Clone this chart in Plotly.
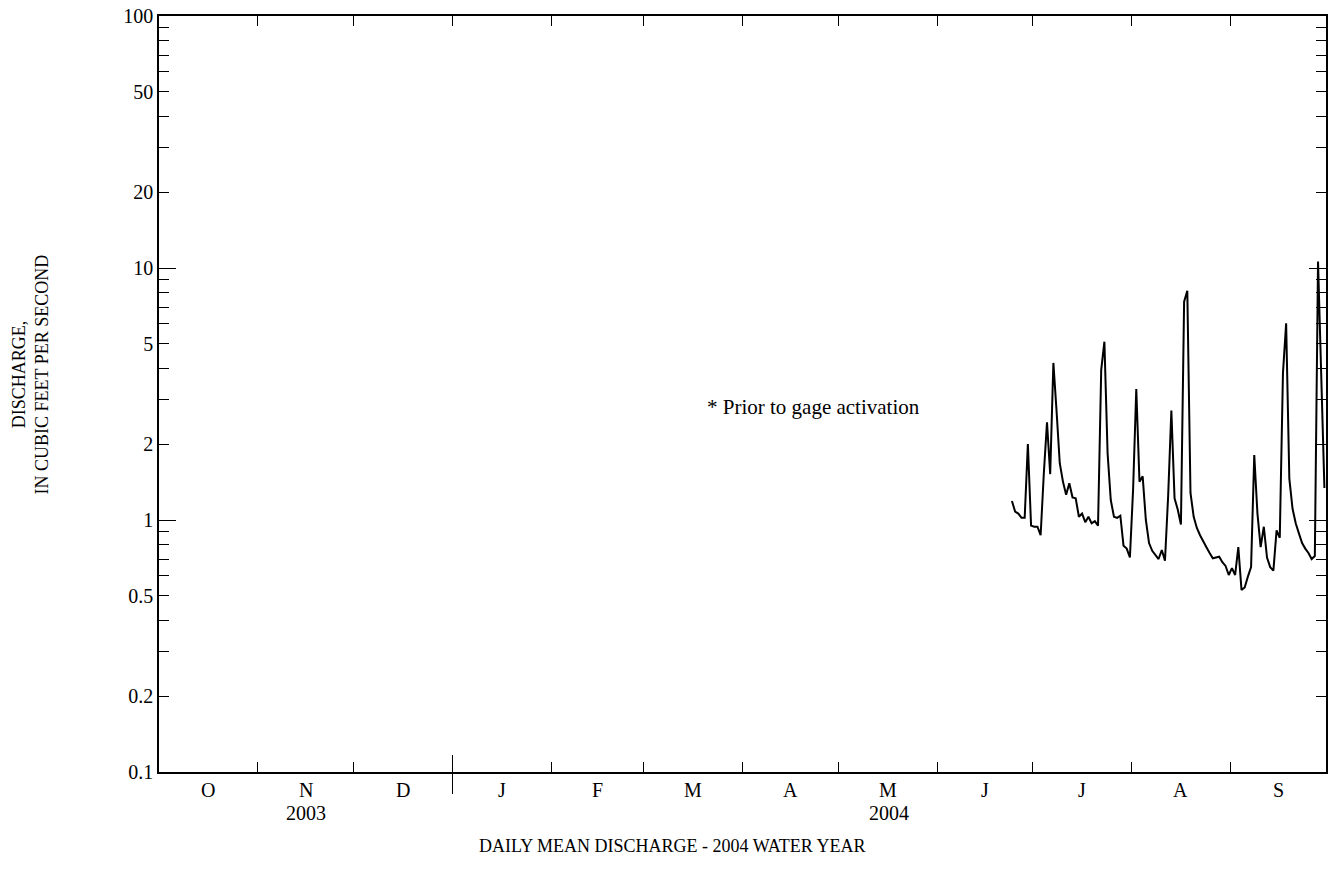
import pandas as pd
import plotly.graph_objects as go

# Daily mean discharge (ft3/s), 2004-06-24 through 2004-09-30
record_start = "2004-06-24"
discharge = [
    1.19, 1.08, 1.06, 1.02, 1.02, 2.0, 0.95, 0.94, 0.94, 0.87,
    1.53, 2.44, 1.52, 4.2, 2.7, 1.68, 1.42, 1.26, 1.40, 1.23,
    1.22, 1.03, 1.06, 0.98, 1.03, 0.97, 0.99, 0.95, 3.94, 5.1,
    1.84, 1.2, 1.03, 1.02, 1.04, 0.79, 0.77, 0.71, 1.32, 3.31,
    1.42, 1.49, 1.0, 0.81, 0.755, 0.73, 0.70, 0.76, 0.69, 1.25,
    2.72, 1.22, 1.10, 0.96, 7.35, 8.13, 1.28, 1.03, 0.93, 0.87,
    0.82, 0.78, 0.74, 0.705, 0.71, 0.715, 0.68, 0.657, 0.605, 0.644,
    0.605, 0.78, 0.528, 0.54, 0.596, 0.65, 1.81, 1.06, 0.78, 0.94,
    0.71, 0.65, 0.63, 0.91, 0.85, 3.82, 6.03, 1.46, 1.11, 0.97,
    0.885, 0.81, 0.77, 0.74, 0.70, 0.72, 10.6, 3.7, 1.34,
]

month_letters = ["O", "N", "D", "J", "F", "M", "A", "M", "J", "J", "A", "S"]
water_year_start = "2003-10-01"
water_year_end = "2004-10-01"
year_labels = ["2003", "2004"]
year_bounds = [("2003-10-01", "2004-01-01"), ("2004-01-01", "2004-10-01")]
y_label_values = [0.1, 0.2, 0.5, 1, 2, 5, 10, 20, 50, 100]

FONT = "Liberation Serif, Times New Roman, serif"

dates = pd.date_range(record_start, periods=len(discharge), freq="D") + pd.Timedelta(hours=12)
month_starts = pd.date_range(water_year_start, water_year_end, freq="MS")
month_mids = [a + (b - a) / 2 for a, b in zip(month_starts[:-1], month_starts[1:])]
x_range = [water_year_start, water_year_end]

# log ticks at every integer multiple within each decade
y_ticks = []
for dec in [0.1, 1, 10]:
    for m in range(1, 10):
        y_ticks.append(round(m * dec, 3))
y_ticks.append(100)
y_ticktext = []
for v in y_ticks:
    if v in y_label_values:
        y_ticktext.append(f"{v:g}")
    else:
        y_ticktext.append("")

fig = go.Figure()
fig.add_trace(go.Scatter(
    x=dates, y=discharge, mode="lines",
    line=dict(color="black", width=2),
    showlegend=False, hoverinfo="x+y",
))

common_x = dict(type="date", range=x_range, showgrid=False, zeroline=False,
                showticklabels=False, tickcolor="black", tickwidth=1, automargin=False)
common_y = dict(type="log", range=[-1, 2], showgrid=False, zeroline=False,
                tickcolor="black", tickwidth=1, automargin=False)

fig.update_layout(
    width=1336, height=884,
    margin=dict(l=159, r=10, t=16, b=112, autoexpand=False),
    paper_bgcolor="white", plot_bgcolor="white",
    font=dict(family=FONT, color="black", size=20),
    xaxis=dict(**common_x, tickmode="array", tickvals=list(month_starts[1:-1]),
               ticks="inside", ticklen=10, showline=True, linecolor="black",
               linewidth=1.5, mirror="ticks"),
    xaxis2=dict(**common_x, overlaying="x", anchor="y", tickmode="array",
                tickvals=["2004-01-01"], ticks="outside", ticklen=21, showline=False),
    xaxis3=dict(**common_x, overlaying="x", anchor="y", tickmode="array",
                tickvals=["2004-01-01"], ticks="inside", ticklen=17, showline=False),
    yaxis=dict(**common_y, tickmode="array", tickvals=y_ticks, ticktext=y_ticktext,
               ticks="inside", ticklen=10, showline=True, linecolor="black",
               linewidth=1.5, mirror="ticks",
               tickfont=dict(family=FONT, size=20, color="black")),
    yaxis2=dict(**common_y, overlaying="y", anchor="x", side="left", tickmode="array",
                tickvals=[0.1, 1, 10, 100], ticks="inside", ticklen=17,
                showticklabels=False, mirror="ticks"),
)

# empty traces so the overlay axes are drawn
fig.add_trace(go.Scatter(x=[None], y=[None], xaxis="x2", yaxis="y", showlegend=False))
fig.add_trace(go.Scatter(x=[None], y=[None], xaxis="x3", yaxis="y2", showlegend=False))

annotations = []
for mid, letter in zip(month_mids, month_letters):
    annotations.append(dict(x=mid, xref="x", y=-0.0235, yref="paper", text=letter,
                            showarrow=False, xanchor="center", yanchor="middle",
                            font=dict(family=FONT, size=20, color="black")))
for (a, b), label in zip(year_bounds, year_labels):
    ta, tb = pd.Timestamp(a), pd.Timestamp(b)
    annotations.append(dict(x=ta + (tb - ta) / 2, xref="x", y=-0.054, yref="paper",
                            text=label, showarrow=False, xanchor="center", yanchor="middle",
                            font=dict(family=FONT, size=20, color="black")))
annotations.append(dict(x=0.561, xref="paper", y=0.448, yref="y",
                        text="* Prior to gage activation", showarrow=False,
                        xanchor="center", yanchor="middle",
                        font=dict(family=FONT, size=21, color="black")))
annotations.append(dict(x=-0.1105, xref="paper", y=0.526, yref="paper",
                        text="DISCHARGE,<br>IN CUBIC FEET PER SECOND", textangle=-90,
                        showarrow=False, xanchor="center", yanchor="middle",
                        font=dict(family=FONT, size=18, color="black")))
annotations.append(dict(x=0.4396, xref="paper", y=-0.098, yref="paper",
                        text="DAILY MEAN DISCHARGE - 2004 WATER YEAR", showarrow=False,
                        xanchor="center", yanchor="middle",
                        font=dict(family=FONT, size=18, color="black")))
fig.update_layout(annotations=annotations)

fig.write_html("out.html")
